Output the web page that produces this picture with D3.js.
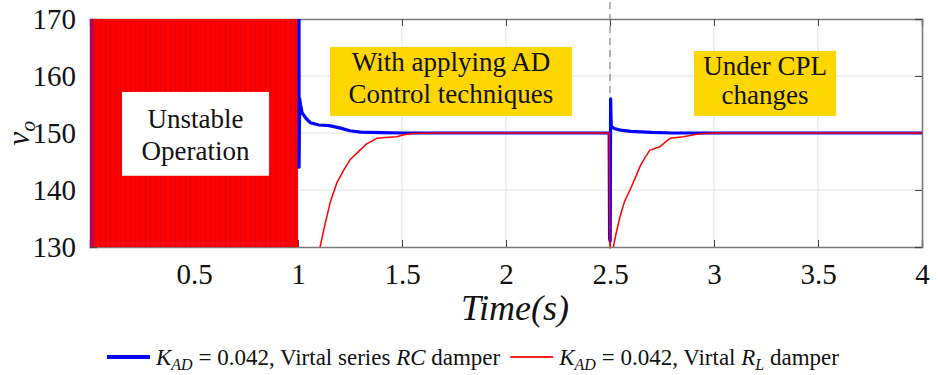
<!DOCTYPE html>
<html>
<head>
<meta charset="utf-8">
<script src="https://cdn.jsdelivr.net/npm/d3@7"></script>
<style>
  body { margin: 0; background: #fff; }
  text { font-family: "Liberation Serif", "DejaVu Serif", serif; fill: #111; }
</style>
</head>
<body>
<svg id="chart"></svg>
<script>
// time (s) and output voltage v_o
const rcSeries = [
  [1.005, 171], [1.005, 144], [1.008, 156], [1.012, 155], [1.02, 153.5],
  [1.04, 152.5], [1.06, 151.8], [1.1, 151.4], [1.15, 151.3], [1.2, 150.9],
  [1.25, 150.4], [1.3, 150.15], [1.4, 150.05], [1.5, 150], [2.496, 150],
  [2.498, 131.5], [2.501, 131], [2.503, 156], [2.506, 151.2], [2.52, 150.8],
  [2.55, 150.5], [2.6, 150.3], [2.7, 150.1], [2.8, 150], [4, 150]
];
const rlSeries = [
  [1.10, 128], [1.106, 130], [1.13, 134], [1.154, 137.7], [1.186, 141.2],
  [1.22, 143.5], [1.25, 145.3], [1.27, 146], [1.298, 147], [1.33, 148.1],
  [1.378, 149.07], [1.42, 149.2], [1.474, 149.35], [1.51, 149.7], [1.55, 149.9],
  [1.65, 150], [2.497, 150], [2.5, 128], [2.51, 129], [2.516, 130],
  [2.53, 132.5], [2.548, 135.3], [2.57, 138], [2.596, 140], [2.62, 142],
  [2.644, 144.1], [2.67, 145.8], [2.692, 147], [2.74, 147.6], [2.788, 149.07],
  [2.853, 149.35], [2.917, 149.8], [2.997, 150], [4, 150]
];
// unstable region (oscillation fills the whole visible range)
const unstableSpan = [0, 1];
const loadChangeTime = 2.5;

const xTicks = [0.5, 1, 1.5, 2, 2.5, 3, 3.5, 4];
const yTicks = [130, 140, 150, 160, 170];

const legendItems = [
  { color: "#0000ff", parts: [["K", "i"], ["AD", "s"], [" = 0.042, Virtal series ", "r"], ["RC", "i"], [" damper", "r"]] },
  { color: "#ff2020", parts: [["K", "i"], ["AD", "s"], [" = 0.042, Virtal ", "r"], ["R", "i"], ["L", "s"], [" damper", "r"]] }
];

// annotation boxes: [t0, t1, vTop, vBottom], text lines
const notes = [
  { box: [0.154, 0.861, 157.2, 142.5], fill: "#ffffff", lines: ["Unstable", "Operation"] },
  { box: [1.154, 2.317, 165.1, 153.0], fill: "#ffd700", lines: ["With applying AD", "Control techniques"] },
  { box: [2.904, 3.587, 164.4, 153.0], fill: "#ffd700", lines: ["Under CPL", "changes"] }
];

const W = 938, H = 375;
const margin = { top: 19, right: 16, bottom: 128, left: 90 };
const width = W - margin.left - margin.right;
const height = H - margin.top - margin.bottom;

const root = d3.select("#chart").attr("width", W).attr("height", H);
const svg = root.append("g").attr("transform", `translate(${margin.left},${margin.top})`);

const x = d3.scaleLinear().domain([0, 4]).range([0, width]);
const y = d3.scaleLinear().domain([130, 170]).range([height, 0]);

// grid
svg.append("g").selectAll("line").data(xTicks.slice(0, -1)).join("line")
  .attr("x1", d => x(d)).attr("x2", d => x(d)).attr("y1", 0).attr("y2", height)
  .attr("stroke", "#e3e3e3").attr("stroke-width", 1);
svg.append("g").selectAll("line").data(yTicks.slice(1, -1)).join("line")
  .attr("x1", 0).attr("x2", width).attr("y1", d => y(d)).attr("y2", d => y(d))
  .attr("stroke", "#e3e3e3").attr("stroke-width", 1);

// axes box with inward ticks
const axisColor = "#7a7a7a";
const xb = svg.append("g").attr("transform", `translate(0,${height})`)
  .call(d3.axisBottom(x).tickValues(xTicks).tickSize(-7).tickPadding(16).tickFormat(d3.format("")));
const xt = svg.append("g")
  .call(d3.axisTop(x).tickValues(xTicks).tickSize(-7).tickFormat(""));
const yl = svg.append("g")
  .call(d3.axisLeft(y).tickValues(yTicks).tickSize(-7).tickPadding(14).tickFormat(d3.format("d")));
const yr = svg.append("g").attr("transform", `translate(${width},0)`)
  .call(d3.axisRight(y).tickValues(yTicks).tickSize(-7).tickFormat(""));
[xb, xt, yl, yr].forEach(g => {
  g.attr("font-family", "Liberation Serif, serif");
  g.select(".domain").attr("stroke", axisColor).attr("stroke-width", 1.6);
  g.selectAll(".tick line").attr("stroke", "#444").attr("stroke-width", 1);
  g.selectAll(".tick text").style("font-size", "29px").attr("fill", "#222");
});

// load-change marker
svg.append("line")
  .attr("x1", x(loadChangeTime)).attr("x2", x(loadChangeTime))
  .attr("y1", -margin.top + 2).attr("y2", height + 7)
  .attr("stroke", "#888").attr("stroke-width", 1.2).attr("stroke-dasharray", "7,5");

// data
const defs = root.append("defs");
defs.append("clipPath").attr("id", "plot").append("rect")
  .attr("width", width).attr("height", height);
const pat = defs.append("pattern").attr("id", "osc").attr("patternUnits", "userSpaceOnUse")
  .attr("width", 5).attr("height", 10);
pat.append("rect").attr("width", 5).attr("height", 10).attr("fill", "#ff0000");
pat.append("rect").attr("width", 1).attr("height", 10).attr("fill", "#e00010");

const plot = svg.append("g").attr("clip-path", "url(#plot)");

plot.append("rect")
  .attr("x", x(unstableSpan[0])).attr("width", x(unstableSpan[1]) - x(unstableSpan[0]))
  .attr("y", y(170)).attr("height", y(130) - y(170))
  .attr("fill", "url(#osc)");
plot.append("rect")
  .attr("x", x(unstableSpan[0])).attr("width", 4)
  .attr("y", y(170)).attr("height", y(130) - y(170))
  .attr("fill", "#6a00c0").attr("opacity", 0.4);

const line = d3.line().x(d => x(d[0])).y(d => y(d[1]));
plot.append("path").datum(rcSeries).attr("d", line)
  .attr("fill", "none").attr("stroke", "#0000ff").attr("stroke-width", 3.2)
  .attr("stroke-linejoin", "round");
plot.append("path").datum(rlSeries).attr("d", line)
  .attr("fill", "none").attr("stroke", "#ff0000").attr("stroke-width", 1.5)
  .attr("stroke-linejoin", "round");

// annotation boxes
notes.forEach((n, j) => {
  const [t0, t1, vTop, vBot] = n.box;
  const bx = x(t0), bw = x(t1) - x(t0), by = y(vTop), bh = y(vBot) - y(vTop);
  svg.append("rect").attr("x", bx).attr("y", by).attr("width", bw).attr("height", bh)
    .attr("fill", n.fill);
  const first = j === 0 ? 36 : 24;
  const step = j === 2 ? 29 : 32;
  n.lines.forEach((ln, i) => {
    svg.append("text")
      .attr("x", bx + bw / 2)
      .attr("y", by + first + i * step)
      .attr("text-anchor", "middle")
      .style("font-size", "27px")
      .text(ln);
  });
});

// axis titles
svg.append("text")
  .attr("x", width / 2 + 9).attr("y", height + 73)
  .attr("text-anchor", "middle").style("font-size", "36px").style("font-style", "italic")
  .text("Time(s)");

const yt = root.append("text")
  .attr("transform", `translate(29,${margin.top + height / 2}) rotate(-90)`)
  .attr("text-anchor", "middle").style("font-size", "31px").style("font-style", "italic");
yt.append("tspan").text("v");
yt.append("tspan").attr("dy", 6).style("font-size", "22px").text("o");

// legend
const legendY = H - 18;
let lx = 107;
legendItems.forEach((item, i) => {
  root.append("line")
    .attr("x1", lx).attr("x2", lx + 43).attr("y1", legendY).attr("y2", legendY)
    .attr("stroke", item.color).attr("stroke-width", i === 0 ? 4 : 2);
  const t = root.append("text").attr("x", lx + 49).attr("y", legendY + 8)
    .style("font-size", "23px");
  item.parts.forEach(([s, kind], k) => {
    const sp = t.append("tspan").text(s);
    const prevSub = k > 0 && item.parts[k - 1][1] === "s";
    if (kind === "i") sp.style("font-style", "italic");
    if (kind === "s") sp.style("font-style", "italic").style("font-size", "16px").attr("dy", 5);
    else if (prevSub) sp.attr("dy", -5);
  });
  lx = lx + 49 + t.node().getComputedTextLength() + 10;
});
</script>
</body>
</html>
